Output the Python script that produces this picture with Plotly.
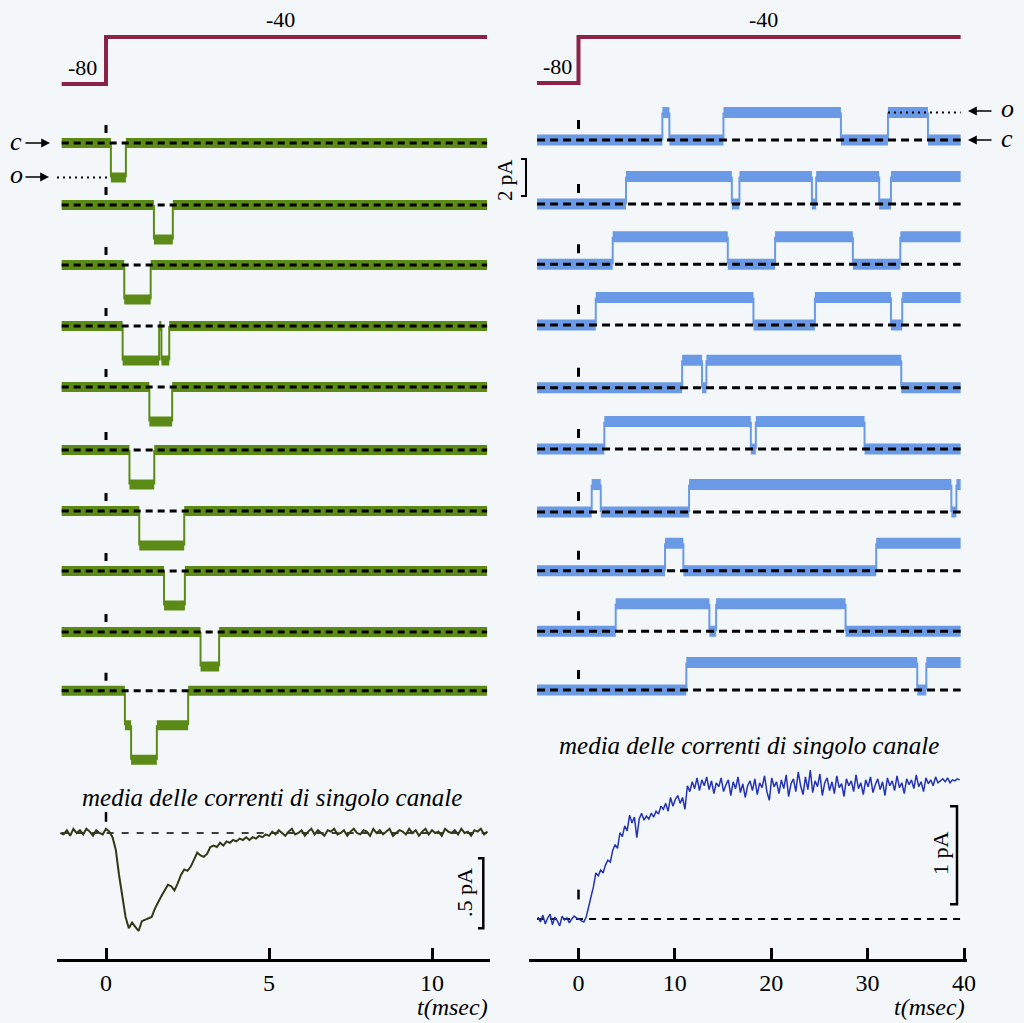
import plotly.graph_objects as go

W, H = 1024, 1023
BG = "#f3f7f9"
GREEN = "#5b8a16"
BLUE = "#6a9ae6"
MAROON = "#8b2346"
NA_AVG_COLOR = "#2d3a14"
K_AVG_COLOR = "#2433b5"
SERIF = "Liberation Serif, Times New Roman, DejaVu Serif, serif"

# ------------------------------------------------------------------ data
# voltage protocol (mV)
V_HOLD = -80
V_TEST = -40
STEP_T = 0.0

# time windows of the records (ms)
NA_T0, NA_T1 = -1.36, 11.69
K_T0, K_T1 = -4.3, 39.65

# Na channel records: (time ms, number of open channels after the transition)
na_records = [
    [(0.15, 1), (0.61, 0)],
    [(1.47, 1), (2.05, 0)],
    [(0.56, 1), (1.37, 0)],
    [(0.51, 1), (1.63, 0), (1.70, 1), (1.94, 0)],
    [(1.33, 1), (2.03, 0)],
    [(0.72, 1), (1.48, 0)],
    [(1.02, 1), (2.40, 0)],
    [(1.78, 1), (2.42, 0)],
    [(2.90, 1), (3.47, 0)],
    [(0.58, 1), (0.77, 2), (1.56, 1), (2.52, 0)],
]

# K channel records: (time ms, open(1)/closed(0) after the transition)
k_records = [
    [(8.70, 1), (9.43, 0), (15.04, 1), (27.23, 0), (32.11, 1), (36.26, 0)],
    [(4.93, 1), (15.91, 0), (16.70, 1), (24.22, 0), (24.66, 1), (31.20, 0), (32.42, 1)],
    [(3.55, 1), (15.49, 0), (20.40, 1), (28.47, 0), (33.39, 1)],
    [(1.79, 1), (18.15, 0), (24.53, 1), (32.42, 0), (33.59, 1)],
    [(10.75, 1), (12.82, 0), (13.27, 1), (33.49, 0)],
    [(2.68, 1), (17.88, 0), (18.40, 1), (29.68, 0)],
    [(1.37, 1), (2.31, 0), (11.47, 1), (38.69, 0), (39.21, 1)],
    [(8.98, 1), (10.88, 0), (30.89, 1)],
    [(3.86, 1), (13.58, 0), (14.28, 1), (27.71, 0)],
    [(11.19, 1), (35.15, 0), (36.09, 1)],
]
K_UNIT_PA = 1.4      # unitary K current (pA)

# ensemble averages (pA), sampled every dt from start
na_avg_start, na_avg_dt = -1.4, 0.1
na_avg = [
    0.00, -0.01, 0.02, -0.02, 0.03, 0.00, 0.02, -0.01, 0.03, 0.01, -0.02, 0.02, 0.00, -0.01, 0.03,
    0.01, -0.03, -0.12, -0.30, -0.45, -0.60, -0.68, -0.64, -0.67, -0.70,
    -0.63, -0.62, -0.61, -0.60, -0.54, -0.49, -0.45, -0.41, -0.37, -0.38,
    -0.41, -0.36, -0.30, -0.26, -0.27, -0.24, -0.19, -0.14, -0.16, -0.17,
    -0.15, -0.10, -0.09, -0.10, -0.07, -0.09, -0.06, -0.07, -0.05, -0.06,
    -0.04, -0.05, -0.03, -0.05, -0.03, -0.04, -0.02, -0.03, -0.01, -0.02,
    0.01, -0.01, 0.02, 0.00, -0.02, 0.01, 0.03, -0.01, 0.00, 0.02, -0.02, 0.01, 0.03, -0.01,
    0.02, 0.00, -0.02, 0.02, 0.01, 0.03, -0.01, 0.00, 0.02, -0.02, 0.01, 0.03, 0.00, -0.01,
    0.02, 0.01, -0.02, 0.03, 0.00, 0.02, -0.01, 0.01, 0.03, -0.02, 0.00, 0.02, 0.01, -0.01,
    0.03, 0.00, 0.02, -0.02, 0.01, 0.03, -0.01, 0.02, 0.00, 0.01, -0.02, 0.03, 0.01, 0.00,
    0.02, -0.01, 0.03, 0.00, 0.01, -0.02, 0.02, 0.01, 0.03, -0.01, 0.01,
]

k_avg_start, k_avg_dt = -4.2, 0.25
k_avg = [
    0.02, -0.03, 0.04, -0.05, 0.01, 0.05, -0.06, 0.02, -0.02, -0.07, 0.03, -0.01, 0.01, -0.04, 0.00, 0.03, 0.01,
    0.00, -0.02, -0.03, 0.02, 0.12, 0.20, 0.33, 0.47, 0.44, 0.50, 0.47, 0.55, 0.60, 0.58,
    0.70, 0.76, 0.72, 0.88, 0.84, 0.95, 0.90, 1.06, 0.98, 1.04, 0.83, 1.02, 1.08, 1.01,
    1.05, 1.02, 1.08, 1.04, 1.10, 1.07, 1.15, 1.12, 1.18, 1.10, 1.24, 1.15, 1.22, 1.26,
    1.18, 1.24, 1.12, 1.36, 1.30, 1.40, 1.33, 1.44, 1.31, 1.42, 1.36,
    1.45, 1.32, 1.41, 1.28, 1.39, 1.35, 1.44, 1.30, 1.37, 1.42,
    1.26, 1.40, 1.33, 1.45, 1.29, 1.38, 1.24, 1.36, 1.41, 1.31,
    1.43, 1.27, 1.39, 1.34, 1.46, 1.30, 1.21, 1.44, 1.35, 1.40,
    1.28, 1.42, 1.33, 1.47, 1.25, 1.38, 1.43, 1.30, 1.50, 1.36,
    1.27, 1.45, 1.32, 1.52, 1.29, 1.41, 1.35, 1.48, 1.26, 1.39,
    1.44, 1.31, 1.40, 1.28, 1.46, 1.34, 1.38, 1.25, 1.43, 1.36,
    1.41, 1.30, 1.47, 1.33, 1.39, 1.27, 1.42, 1.35, 1.45, 1.29,
    1.37, 1.43, 1.32, 1.40, 1.26, 1.44, 1.36, 1.41, 1.31, 1.46,
    1.34, 1.39, 1.28, 1.43, 1.37, 1.42, 1.33, 1.47, 1.35, 1.40,
    1.30, 1.44, 1.38, 1.42, 1.36, 1.45, 1.39, 1.41, 1.43, 1.40,
    1.44, 1.39, 1.42, 1.41, 1.43, 1.42,
]

na_ticks = [0, 5, 10]
k_ticks = [0, 10, 20, 30, 40]
NA_SCALE_PA = 0.5
K_SCALE_PA = 1.0

# ------------------------------------------------------------------ layout geometry (pixels)
NA_X0PX, NA_PPMS, NA_DOM = 106.0, 32.6, (57, 490)
K_X0PX, K_PPMS, K_DOM = 578.5, 9.6375, (529, 967)
AXIS_Y_PX = 960

NA_ROWS_PX = [143, 205, 265, 326, 387, 450, 511, 571, 632, 690.7]
K_ROWS_PX = [140, 204, 264.3, 325, 387.7, 449, 512, 570.7, 631.3, 690]
NA_PPU = 34.5          # px per open channel
K_PPU = 19.6           # px per pA

fig = go.Figure()
layout = dict(width=W, height=H, margin=dict(l=0, r=0, t=0, b=0, autoexpand=False),
              autosize=False,
              paper_bgcolor=BG, plot_bgcolor="rgba(0,0,0,0)", showlegend=False)


def xaxis(dom, x0px, ppms, ticks):
    return dict(domain=[dom[0] / W, dom[1] / W],
                range=[(dom[0] - x0px) / ppms, (dom[1] - x0px) / ppms],
                anchor="free", position=1 - AXIS_Y_PX / H, side="bottom",
                showline=True, linecolor="black", linewidth=3,
                ticks="inside", ticklen=11, tickwidth=2.5, tickcolor="black",
                tickvals=ticks, ticktext=[str(t) for t in ticks],
                tickfont=dict(family=SERIF, size=24, color="black"),
                showgrid=False, zeroline=False, fixedrange=True)


layout["xaxis"] = xaxis(NA_DOM, NA_X0PX, NA_PPMS, na_ticks)
layout["xaxis2"] = xaxis(K_DOM, K_X0PX, K_PPMS, k_ticks)

ycount = [0]


def new_yaxis(val_ref, px_ref, ppu, top_px, bot_px, xa):
    ycount[0] += 1
    n = ycount[0]
    key = "yaxis" if n == 1 else f"yaxis{n}"
    layout[key] = dict(domain=[1 - bot_px / H, 1 - top_px / H],
                       range=[val_ref - (bot_px - px_ref) / ppu, val_ref + (px_ref - top_px) / ppu],
                       visible=False, anchor=xa, fixedrange=True)
    return "y" if n == 1 else f"y{n}"


def line(xa, ya, xs, ys, color, width, dash="solid"):
    fig.add_trace(go.Scatter(x=xs, y=ys, xaxis=xa, yaxis=ya, mode="lines",
                             line=dict(color=color, width=width, dash=dash),
                             hoverinfo="skip"))


def record(xa, ya, events, t0, t1, amp, color, band, dash):
    segs, verts = [], []
    tp, lv = t0, 0
    for t, n in events:
        segs.append((tp, t, lv))
        verts.append((t, lv, n))
        tp, lv = t, n
    segs.append((tp, t1, lv))
    # thin vertical transitions
    vx, vy = [], []
    for t, a, b in verts:
        vx += [t, t, None]
        vy += [a * amp, b * amp, None]
    line(xa, ya, vx, vy, color, 2)
    # thick bands on each level
    bx, by = [], []
    for a, b, lvl in segs:
        bx += [a, b, None]
        by += [lvl * amp, lvl * amp, None]
    line(xa, ya, bx, by, color, band)
    # dashed closed-level line
    line(xa, ya, [t0, t1], [0, 0], "black", 3, dash)


# ---------------- voltage protocol
for xa, t0, t1, vref_px, ppu in (("x", NA_T0, NA_T1, 84, 47 / 40), ("x2", K_T0, K_T1, 83, 46 / 40)):
    ya = new_yaxis(V_HOLD, vref_px, ppu, 15, 105, xa)
    line(xa, ya, [t0, STEP_T, STEP_T, t1], [V_HOLD, V_HOLD, V_TEST, V_TEST], MAROON, 4)

# ---------------- Na records
na_axes = []
for i, ev in enumerate(na_records):
    yc = NA_ROWS_PX[i]
    ya = new_yaxis(0, yc, NA_PPU, yc - 40, yc + 85, "x")
    na_axes.append(ya)
    record("x", ya, ev, NA_T0, NA_T1, -1, GREEN, 10, "7px,5px")
    line("x", ya, [0, 0], [10 / NA_PPU, 18 / NA_PPU], "black", 3)
# dotted open level on first record
line("x", na_axes[0], [(NA_DOM[0] - NA_X0PX) / NA_PPMS, na_records[0][0][0]], [-1, -1],
     "black", 2, "2px,4px")

# ---------------- K records
k_axes = []
for i, ev in enumerate(k_records):
    yc = K_ROWS_PX[i]
    ya = new_yaxis(0, yc, K_PPU, yc - 50, yc + 25, "x2")
    k_axes.append(ya)
    record("x2", ya, ev, K_T0, K_T1, K_UNIT_PA, BLUE, 11, "8px,5px")
    line("x2", ya, [0, 0], [11 / K_PPU, 20 / K_PPU], "black", 3)
line("x2", k_axes[0], [k_records[0][4][0], K_T1], [K_UNIT_PA, K_UNIT_PA], "black", 2, "2px,4px")

# ---------------- averages
na_t = [na_avg_start + i * na_avg_dt for i in range(len(na_avg))]
k_t = [k_avg_start + i * k_avg_dt for i in range(len(k_avg))]

ya = new_yaxis(0, 833, 140, 790, 950, "x")
line("x", ya, [NA_T0, NA_T1], [0, 0], "black", 1.5, "7px,8px")
line("x", ya, na_t, na_avg, NA_AVG_COLOR, 2)
line("x", ya, [0, 0], [0.08, 0.15], "black", 2.5)
bx = (483.3 - NA_X0PX) / NA_PPMS
bt = (478 - NA_X0PX) / NA_PPMS
top = -0.18
line("x", ya, [bt, bx, bx, bt], [top, top, top - NA_SCALE_PA, top - NA_SCALE_PA], "black", 2.5)

ya = new_yaxis(0, 919, 98, 730, 940, "x2")
line("x2", ya, [K_T0, K_T1], [0, 0], "black", 2, "7px,6px")
line("x2", ya, k_t, k_avg, K_AVG_COLOR, 1.5)
line("x2", ya, [0, 0], [0.20, 0.30], "black", 2.5)
bx = (957 - K_X0PX) / K_PPMS
bt = (950 - K_X0PX) / K_PPMS
bot = 0.15
line("x2", ya, [bt, bx, bx, bt], [bot + K_SCALE_PA, bot + K_SCALE_PA, bot, bot], "black", 2.5)

# ---------------- texts
ann = []


def txt(xp, yp, s, size, angle=0):
    ann.append(dict(x=xp / W, y=1 - yp / H, xref="paper", yref="paper", text=s,
                    showarrow=False, xanchor="center", yanchor="middle", textangle=angle,
                    font=dict(family=SERIF, size=size, color="black")))


def arrow(x_head, y, dx):
    ann.append(dict(x=x_head / W, y=1 - y / H, xref="paper", yref="paper", text="",
                    showarrow=True, ax=dx, ay=0, arrowhead=2, arrowsize=1.1, arrowwidth=1.6,
                    arrowcolor="black", standoff=0, startstandoff=0))


txt(82, 68, "-80", 22)
txt(280, 20, "-40", 22)
txt(557, 67, "-80", 22)
txt(763, 20, "-40", 22)

txt(16, 141, "<i>c</i>", 26)
txt(16, 175, "<i>o</i>", 26)
arrow(50, 143, -26)
arrow(49, 177, -25)
txt(1007, 108, "<i>o</i>", 26)
txt(1007, 138, "<i>c</i>", 26)
arrow(968, 111, 25)
arrow(968, 140, 25)

txt(505, 180, "2 pA", 21, -90)
txt(464, 893, ".5 pA", 22, -90)
txt(940, 853, "1 pA", 22, -90)

txt(272, 797, "<i>media delle correnti di singolo canale</i>", 25)
txt(749, 745, "<i>media delle correnti di singolo canale</i>", 25)
txt(452, 1007, "<i>t(msec)</i>", 24)
txt(929, 1007, "<i>t(msec)</i>", 24)

layout["annotations"] = ann
layout["shapes"] = [
    dict(type="path", xref="paper", yref="paper",
         path=f"M {521 / W} {1 - 159 / H} L {526 / W} {1 - 159 / H} L {526 / W} {1 - 196 / H} L {521 / W} {1 - 196 / H}",
         line=dict(color="black", width=2)),
]

fig.update_layout(**layout)
fig.write_html(
    "out.html",
    config={"responsive": False, "displayModeBar": False},
    post_script="document.documentElement.style.overflow='hidden';"
                "document.body.style.overflow='hidden';document.body.style.margin='0';",
)
